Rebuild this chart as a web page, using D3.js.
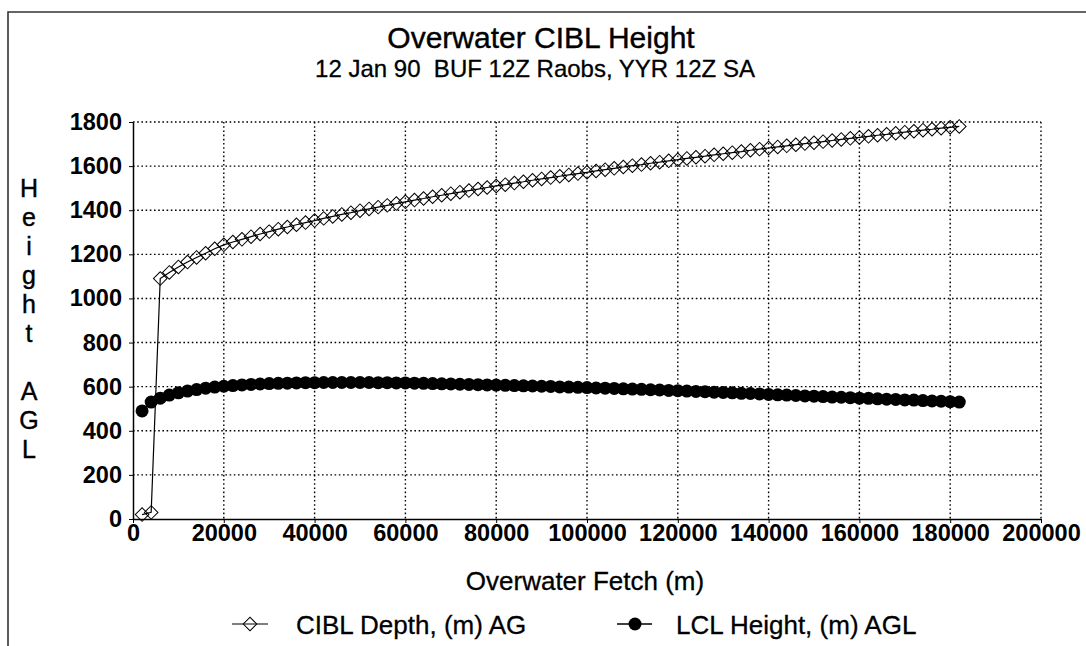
<!DOCTYPE html>
<html lang="en">
<head>
    <meta charset="UTF-8">
    <title>Overwater CIBL Height</title>
    <style>
        html, body {
            margin: 0;
            padding: 0;
            background: white;
        }

        svg text {
            font-family: "Liberation Sans", Arial, sans-serif;
        }
    </style>
</head>
<body>
<svg id="chart"></svg>
<script src="https://cdn.jsdelivr.net/npm/d3@7/dist/d3.min.js"></script>
<script>
    "use strict"

    // overwater fetch (m), one reading every 2 km
    const fetch = [
        2000, 4000, 6000, 8000, 10000, 12000, 14000, 16000, 18000, 20000,
        22000, 24000, 26000, 28000, 30000, 32000, 34000, 36000, 38000, 40000,
        42000, 44000, 46000, 48000, 50000, 52000, 54000, 56000, 58000, 60000,
        62000, 64000, 66000, 68000, 70000, 72000, 74000, 76000, 78000, 80000,
        82000, 84000, 86000, 88000, 90000, 92000, 94000, 96000, 98000, 100000,
        102000, 104000, 106000, 108000, 110000, 112000, 114000, 116000, 118000, 120000,
        122000, 124000, 126000, 128000, 130000, 132000, 134000, 136000, 138000, 140000,
        142000, 144000, 146000, 148000, 150000, 152000, 154000, 156000, 158000, 160000,
        162000, 164000, 166000, 168000, 170000, 172000, 174000, 176000, 178000, 180000,
        182000
    ];

    // CIBL depth, (m) AG
    const ciblDepth = [
        20, 30, 1090, 1118, 1143, 1165, 1186, 1205, 1225, 1243,
        1256, 1268, 1280, 1292, 1303, 1314, 1324, 1334, 1344, 1353,
        1363, 1372, 1381, 1389, 1398, 1406, 1414, 1422, 1430, 1438,
        1446, 1453, 1461, 1468, 1475, 1482, 1489, 1496, 1503, 1510,
        1516, 1523, 1529, 1536, 1542, 1548, 1554, 1560, 1566, 1572,
        1578, 1584, 1590, 1596, 1602, 1607, 1613, 1618, 1624, 1629,
        1635, 1640, 1645, 1651, 1656, 1661, 1666, 1672, 1677, 1682,
        1687, 1692, 1697, 1702, 1706, 1711, 1716, 1721, 1726, 1730,
        1735, 1740, 1744, 1749, 1754, 1758, 1763, 1767, 1772, 1776,
        1780
    ];

    // LCL height, (m) AGL
    const lclHeight = [
        490, 530, 548, 562, 572, 580, 587, 593, 598, 602,
        605, 608, 610, 612, 614, 615, 616, 617, 618, 618,
        619, 619, 619, 619, 619, 619, 618, 618, 617, 617,
        616, 615, 614, 613, 612, 611, 610, 609, 608, 607,
        606, 605, 604, 603, 602, 601, 599, 598, 597, 596,
        594, 593, 592, 590, 589, 588, 586, 585, 583, 582,
        580, 578, 577, 575, 574, 572, 570, 569, 567, 565,
        563, 562, 560, 558, 557, 555, 553, 552, 550, 548,
        547, 545, 543, 542, 540, 539, 537, 535, 534, 532,
        530
    ];

    const xTicks = [0, 20000, 40000, 60000, 80000, 100000, 120000, 140000, 160000, 180000, 200000];
    const yTicks = [0, 200, 400, 600, 800, 1000, 1200, 1400, 1600, 1800];
    const yTitleLetters = ["H", "e", "i", "g", "h", "t", "", "A", "G", "L"];

    const width = 1086, height = 646;
    const plot = {left: 133, right: 1041, top: 122, bottom: 519};

    const svg = d3.select("#chart")
        .attr("width", width)
        .attr("height", height);

    // scanned page frame
    svg.append("path")
        .attr("d", "M8," + height + "V12H" + width)
        .attr("fill", "none")
        .attr("stroke", "#333")
        .attr("stroke-width", 1.6);

    const x = d3.scaleLinear().domain([0, 200000]).range([plot.left, plot.right]);
    const y = d3.scaleLinear().domain([0, 1800]).range([plot.bottom, plot.top]);

    /* dotted grid */
    svg.append("g")
        .selectAll("line")
        .data(yTicks.filter(d => d > 0))
        .join("line")
        .attr("x1", plot.left)
        .attr("x2", plot.right)
        .attr("y1", d => y(d))
        .attr("y2", d => y(d))
        .attr("stroke", "black")
        .attr("stroke-width", 1.4)
        .attr("stroke-dasharray", "1.6,2.6");

    svg.append("g")
        .selectAll("line")
        .data(xTicks.filter(d => d > 0))
        .join("line")
        .attr("x1", d => x(d))
        .attr("x2", d => x(d))
        .attr("y1", plot.top)
        .attr("y2", plot.bottom)
        .attr("stroke", "black")
        .attr("stroke-width", 1.4)
        .attr("stroke-dasharray", "1.6,2.6");

    /* axes */
    const yAxis = svg.append("g")
        .attr("transform", "translate(" + plot.left + ",0)")
        .call(d3.axisLeft(y).tickValues(yTicks).tickFormat(d3.format("d"))
            .tickSizeInner(4).tickSizeOuter(0).tickPadding(7));

    const xAxis = svg.append("g")
        .attr("transform", "translate(0," + plot.bottom + ")")
        .call(d3.axisBottom(x).tickValues(xTicks).tickFormat(d3.format("d"))
            .tickSizeInner(4).tickSizeOuter(0).tickPadding(1));

    [yAxis, xAxis].forEach(a => {
        a.select(".domain").attr("stroke", "black").attr("stroke-width", 1.5);
        a.selectAll(".tick line").attr("stroke", "black");
        a.selectAll(".tick text")
            .attr("fill", "black")
            .attr("font-size", "23.5px")
            .attr("font-weight", "bold")
            .attr("font-family", "'Liberation Sans', Arial, sans-serif");
    });

    /* CIBL depth: thin line with hollow diamonds */
    const ciblPoints = fetch.map((f, i) => [f, ciblDepth[i]]);
    const lclPoints = fetch.map((f, i) => [f, lclHeight[i]]);

    const line = d3.line()
        .x(d => x(d[0]))
        .y(d => y(d[1]));

    svg.append("path")
        .datum(ciblPoints)
        .attr("d", line)
        .attr("fill", "none")
        .attr("stroke", "black")
        .attr("stroke-width", 1.2);

    const diamond = d3.symbol().type(d3.symbolSquare).size(92);

    svg.append("g")
        .selectAll("path")
        .data(ciblPoints)
        .join("path")
        .attr("d", diamond)
        .attr("transform", d => "translate(" + x(d[0]) + "," + y(d[1]) + ") rotate(45)")
        .attr("fill", "none")
        .attr("stroke", "black")
        .attr("stroke-width", 1);

    /* LCL height: line with filled circles */
    svg.append("path")
        .datum(lclPoints)
        .attr("d", line)
        .attr("fill", "none")
        .attr("stroke", "black")
        .attr("stroke-width", 1.2);

    svg.append("g")
        .selectAll("circle")
        .data(lclPoints)
        .join("circle")
        .attr("cx", d => x(d[0]))
        .attr("cy", d => y(d[1]))
        .attr("r", 6.5)
        .attr("fill", "black");

    /* titles */
    svg.append("text")
        .attr("x", 541)
        .attr("y", 48)
        .attr("text-anchor", "middle")
        .attr("font-size", "30px")
        .attr("stroke", "black")
        .attr("stroke-width", 0.4)
        .text("Overwater CIBL Height");

    svg.append("text")
        .attr("x", 535)
        .attr("y", 77)
        .attr("text-anchor", "middle")
        .attr("font-size", "24px")
        .attr("stroke", "black")
        .attr("stroke-width", 0.3)
        .attr("xml:space", "preserve")
        .style("white-space", "pre")
        .text("12 Jan 90  BUF 12Z Raobs, YYR 12Z SA");

    svg.append("text")
        .attr("x", 585)
        .attr("y", 590)
        .attr("text-anchor", "middle")
        .attr("font-size", "26px")
        .attr("stroke", "black")
        .attr("stroke-width", 0.3)
        .text("Overwater Fetch (m)");

    // y title, one letter per row
    svg.append("g")
        .selectAll("text")
        .data(yTitleLetters)
        .join("text")
        .attr("x", 29)
        .attr("y", (d, i) => 197 + i * 29)
        .attr("text-anchor", "middle")
        .attr("font-size", "25px")
        .attr("stroke", "black")
        .attr("stroke-width", 0.4)
        .text(d => d);

    /* legend */
    const legend = svg.append("g");

    legend.append("line")
        .attr("x1", 232).attr("x2", 268)
        .attr("y1", 624).attr("y2", 624)
        .attr("stroke", "black")
        .attr("stroke-width", 1.2);

    legend.append("path")
        .attr("d", diamond)
        .attr("transform", "translate(250,624) rotate(45)")
        .attr("fill", "none")
        .attr("stroke", "black");

    legend.append("text")
        .attr("x", 296)
        .attr("y", 634)
        .attr("font-size", "26px")
        .attr("stroke", "black")
        .attr("stroke-width", 0.3)
        .text("CIBL Depth, (m) AG");

    legend.append("line")
        .attr("x1", 617).attr("x2", 652)
        .attr("y1", 624).attr("y2", 624)
        .attr("stroke", "black")
        .attr("stroke-width", 1.5);

    legend.append("circle")
        .attr("cx", 635)
        .attr("cy", 624)
        .attr("r", 6.5)
        .attr("fill", "black");

    legend.append("text")
        .attr("x", 676)
        .attr("y", 634)
        .attr("font-size", "26px")
        .attr("stroke", "black")
        .attr("stroke-width", 0.3)
        .text("LCL Height, (m) AGL");
</script>
</body>
</html>
